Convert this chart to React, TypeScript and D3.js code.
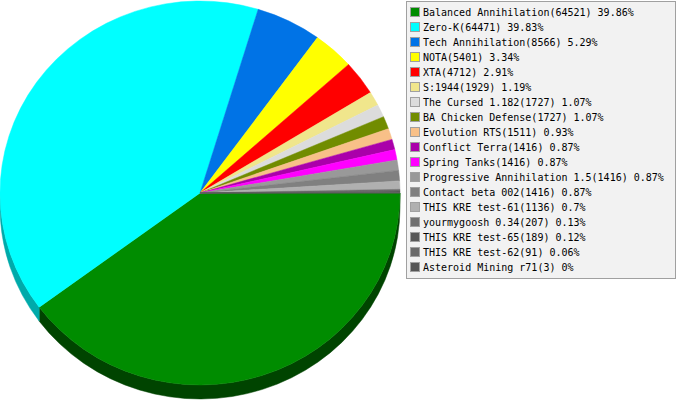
import React from "react";
import * as d3 from "d3";

const names = [
  "Balanced Annihilation",
  "Zero-K",
  "Tech Annihilation",
  "NOTA",
  "XTA",
  "S:1944",
  "The Cursed 1.182",
  "BA Chicken Defense",
  "Evolution RTS",
  "Conflict Terra",
  "Spring Tanks",
  "Progressive Annihilation 1.5",
  "Contact beta 002",
  "THIS KRE test-61",
  "yourmygoosh 0.34",
  "THIS KRE test-65",
  "THIS KRE test-62",
  "Asteroid Mining r71",
];
const values = [64521, 64471, 8566, 5401, 4712, 1929, 1727, 1727, 1511, 1416, 1416, 1416, 1416, 1136, 207, 189, 91, 3];
const pctLabels = ["39.86", "39.83", "5.29", "3.34", "2.91", "1.19", "1.07", "1.07", "0.93", "0.87", "0.87", "0.87", "0.87", "0.7", "0.13", "0.12", "0.06", "0"];
const colors = [
  "#008c00", "#00ffff", "#0073e6", "#ffff00", "#ff0000", "#f0e68c", "#dcdcdc", "#718c00",
  "#f8c088", "#aa00aa", "#ff00ff", "#999999", "#808080", "#b0b0b0", "#707070", "#585858", "#6a6a6a", "#555555",
];
const sideColors = [
  "#004400", "#00aaaa", "#004d99", "#aaaa00", "#aa0000", "#a09a5d", "#939393", "#4b5d00",
  "#a5805a", "#710071", "#aa00aa", "#666666", "#555555", "#757575", "#4a4a4a", "#3a3a3a", "#474747", "#393939",
];

const W = 677;
const H = 400;
const cx = 200;
const cy = 193;
const rx = 200;
const ry = 192;
const depth = 14;

export default function App() {
  const k = ry / rx;
  const pie = d3
    .pie<number>()
    .sort(null)
    .startAngle(Math.PI / 2)
    .endAngle(Math.PI / 2 + 2 * Math.PI)
    .value((d) => d);
  const arcs = pie(values);
  const arcGen = d3.arc<d3.PieArcDatum<number>>().innerRadius(0).outerRadius(rx);
  const dScaled = depth / k;

  // side paths for the front (lower) half
  const sides = arcs
    .map((a, i) => {
      // canvas angle: 0 = 3 o'clock, clockwise on screen
      let t0 = a.startAngle - Math.PI / 2;
      let t1 = a.endAngle - Math.PI / 2;
      t0 = Math.max(t0, 0);
      t1 = Math.min(t1, Math.PI);
      if (t1 <= t0) return null;
      const p = d3.path();
      p.moveTo(rx * Math.cos(t0), rx * Math.sin(t0));
      p.arc(0, 0, rx, t0, t1, false);
      p.lineTo(rx * Math.cos(t1), rx * Math.sin(t1) + dScaled);
      p.arc(0, dScaled, rx, t1, t0, true);
      p.closePath();
      return { d: p.toString(), i };
    })
    .filter((s) => s !== null) as { d: string; i: number }[];

  const legendX = 406;
  const legendY = 1;
  const rowH = 15;
  const firstRow = 12;

  return (
    <svg
      width={W}
      height={H}
      style={{ position: "absolute", left: 0, top: 0, background: "#ffffff" }}
    >
      <rect x={0} y={0} width={W} height={H} fill="#ffffff" />
      <g transform={`translate(${cx},${cy}) scale(1,${k})`}>
        {sides.map((s) => (
          <path key={"s" + s.i} d={s.d} fill={sideColors[s.i]} stroke={sideColors[s.i]} strokeWidth={0.5} />
        ))}
        {arcs.map((a, i) => (
          <path key={"a" + i} d={arcGen(a) || ""} fill={colors[i]} stroke={colors[i]} strokeWidth={0.5} />
        ))}
      </g>
      <rect
        x={legendX + 0.5}
        y={legendY + 0.5}
        width={W - legendX - 2}
        height={277}
        fill="#f2f2f2"
        stroke="#a0a0a0"
      />
      {names.map((n, i) => {
        const yc = firstRow + i * rowH;
        return (
          <g key={"l" + i}>
            <rect x={410.5} y={yc - 4.5} width={9} height={9} fill={colors[i]} stroke="#a0a0a0" />
            <text
              x={423}
              y={yc + 4}
              fontFamily="'DejaVu Sans Mono', monospace"
              fontSize={10}
              fill="#000000"
            >
              {`${n}(${values[i]}) ${pctLabels[i]}%`}
            </text>
          </g>
        );
      })}
    </svg>
  );
}
